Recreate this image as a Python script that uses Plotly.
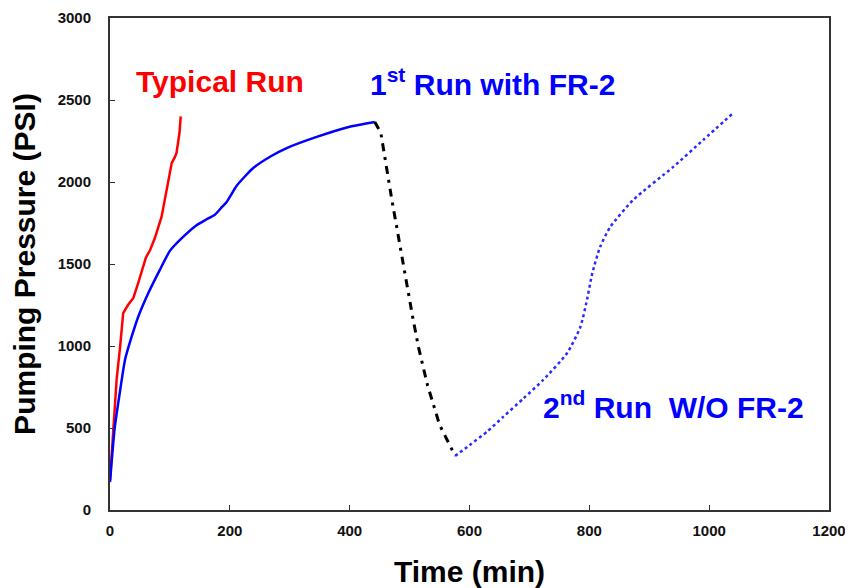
import plotly.graph_objects as go

# Typical run (red)
typ_x = [0, 5.5, 11, 17, 22, 30, 39, 47, 53, 60, 67, 75, 86, 95, 103, 108, 111, 116, 118]
typ_y = [180, 488, 793, 1000, 1200, 1250, 1293, 1384, 1463, 1540, 1585, 1660, 1787, 1950, 2115, 2150, 2177, 2300, 2400]

# 1st run with FR-2 (blue solid)
run1_x = [0, 4, 8, 17, 25, 36, 47, 64, 83, 100, 122, 145, 160, 175, 185, 195, 212, 239, 270, 295, 345, 400, 425, 442]
run1_y = [170, 350, 506, 732, 915, 1055, 1177, 1323, 1463, 1580, 1665, 1738, 1770, 1800, 1840, 1880, 1980, 2085, 2160, 2207, 2275, 2337, 2355, 2366]

# Pressure drop between runs (black dash-dot)
drop_x = [442, 452, 470, 490, 505, 515, 530, 550, 576]
drop_y = [2366, 2300, 1900, 1480, 1180, 990, 760, 520, 330]

# 2nd run without FR-2 (blue dotted)
run2_x = [576, 600, 630, 656, 690, 723, 763, 785, 796, 805, 818, 835, 873, 940, 990, 1040]
run2_y = [330, 395, 480, 567, 680, 793, 957, 1116, 1280, 1445, 1604, 1726, 1890, 2092, 2256, 2420]

x_ticks = [0, 200, 400, 600, 800, 1000, 1200]
y_ticks = [0, 500, 1000, 1500, 2000, 2500, 3000]

FONT = "Liberation Sans, Arial, sans-serif"

fig = go.Figure()
fig.add_trace(go.Scatter(x=typ_x, y=typ_y, mode="lines", line=dict(color="#ff0000", width=2.5)))
fig.add_trace(go.Scatter(x=run1_x, y=run1_y, mode="lines", line=dict(color="#0000ff", width=2.5, shape="spline", smoothing=0.5)))
fig.add_trace(go.Scatter(x=drop_x, y=drop_y, mode="lines", line=dict(color="#000000", width=3, dash="8px,6px,3px,6px")))
fig.add_trace(go.Scatter(x=run2_x, y=run2_y, mode="lines", line=dict(color="#2a2aff", width=2.5, dash="dot", shape="spline", smoothing=0.6)))

fig.add_annotation(x=40, y=2610, text="<b>Typical Run</b>", showarrow=False, xanchor="left", yanchor="middle",
                   font=dict(family=FONT, size=30, color="#ff0000"))
fig.add_annotation(x=430, y=2610, text="<b>1<sup>st</sup> Run with FR-2</b>", showarrow=False, xanchor="left", yanchor="middle",
                   font=dict(family=FONT, size=30, color="#0000ff"))
fig.add_annotation(x=720, y=640, text="<b>2<sup>nd</sup> Run  W/O FR-2</b>", showarrow=False, xanchor="left", yanchor="middle",
                   font=dict(family=FONT, size=30, color="#0000ff"))

axis_common = dict(showgrid=False, zeroline=False, showline=True, linecolor="#333333", linewidth=2,
                   mirror=True, ticks="inside", ticklen=5, tickcolor="#333333", automargin=False,
                   tickfont=dict(family=FONT, size=15, color="#111111"))

fig.update_xaxes(range=[0, 1200], tickvals=x_ticks, ticktext=[f"<b>{v}</b>" for v in x_ticks],
                 ticklabelstandoff=6,
                 title=dict(text="<b>Time (min)</b>", font=dict(family=FONT, size=30, color="#000000"), standoff=24),
                 **axis_common)
fig.update_yaxes(range=[0, 3000], tickvals=y_ticks, ticktext=[f"<b>{v}</b>" for v in y_ticks],
                 ticklabelstandoff=14,
                 title=dict(text="<b>Pumping Pressure (PSI)</b>", font=dict(family=FONT, size=30, color="#000000"), standoff=14),
                 **axis_common)

# The page body has an 8px margin, so the figure is sized and padded to land the plot frame
# at the same spot as in the reference.
fig.update_layout(width=845, height=580, showlegend=False,
                  plot_bgcolor="white", paper_bgcolor="white",
                  margin=dict(l=102, r=24, t=10, b=78))

fig.write_html("out.html")
